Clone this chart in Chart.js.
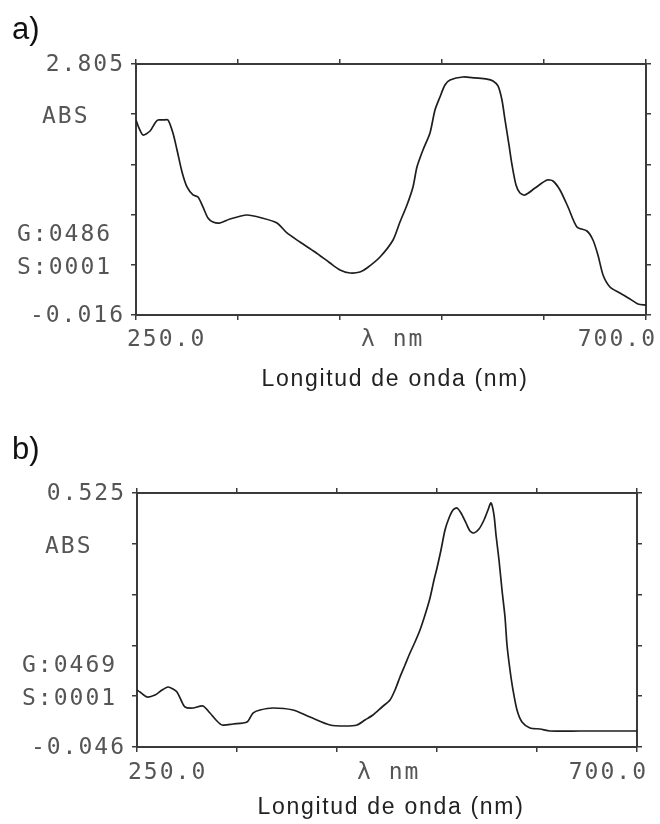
<html>
<head>
<style>
  body { margin: 0; background: #fff; }
  #wrap { position: relative; width: 660px; height: 824px; }
  canvas { position: absolute; left: 0; }
  #chartA { top: 0; }
  #chartB { top: 410px; }
</style>
<script src="https://cdn.jsdelivr.net/npm/chart.js"></script>
</head>
<body>
<div id="wrap">
  <canvas id="chartA" width="660" height="410"></canvas>
  <canvas id="chartB" width="660" height="414"></canvas>
</div>
<script>
// ---- data ----
var xTicks = [250, 340, 430, 520, 610, 700];
var xLabels = ['250.0', '\u03bb nm', '700.0'];
var axisTitle = 'Longitud de onda (nm)';

// spectrum a)
var yRangeA = [-0.016, 2.805];
var yLabelsA = ['2.805', 'ABS', 'G:0486', 'S:0001', '-0.016'];
var wavelengthA = [250, 252.6, 256.2, 262.4, 266.8, 269.4, 273.8, 278.2, 282.6, 286.2, 290.6, 295, 300.3, 304.7,
  309.1, 313.5, 317.9, 324.1, 332.9, 347.9, 361.2, 374.4, 383.2, 394.7, 408, 421.2, 430, 438.8, 447.6, 453.8,
  465.3, 476.8, 482.9, 489.1, 494.4, 497.9, 503.2, 509.4, 513.8, 518.2, 522.6, 527.1, 538.5, 549.1, 559.7, 565,
  569.4, 572.9, 575.6, 579.1, 581.8, 585.3, 588.8, 593.2, 602.1, 612.6, 617.9, 624.1, 631.2, 639.1, 647.9, 653.2,
  657.6, 662.1, 668.2, 677, 685.9, 692.9, 700];
var absA = [2.176, 2.086, 2.007, 2.052, 2.142, 2.176, 2.176, 2.176, 2.029, 1.838, 1.591, 1.423, 1.333, 1.310,
  1.198, 1.074, 1.029, 1.018, 1.063, 1.108, 1.074, 1.018, 0.906, 0.804, 0.692, 0.568, 0.490, 0.456, 0.467, 0.512,
  0.636, 0.827, 1.029, 1.220, 1.423, 1.647, 1.838, 2.030, 2.288, 2.434, 2.569, 2.625, 2.659, 2.648, 2.636, 2.614,
  2.558, 2.400, 2.176, 1.895, 1.670, 1.445, 1.355, 1.333, 1.411, 1.501, 1.490, 1.389, 1.198, 0.973, 0.928, 0.827,
  0.658, 0.434, 0.299, 0.231, 0.164, 0.108, 0.096];

// spectrum b)
var yRangeB = [-0.046, 0.525];
var yLabelsB = ['0.525', 'ABS', 'G:0469', 'S:0001', '-0.046'];
var wavelengthB = [250, 252.7, 259, 266.2, 272.5, 277.9, 282.4, 286, 289.6, 293.2, 300.4, 309.4, 315.7, 321.1,
  326.5, 336.4, 349, 354.4, 360.7, 372.4, 390.4, 405.7, 423.7, 437.2, 448, 455.2, 462.4, 470.5, 477.7, 482.2,
  486.7, 491.2, 495.7, 500.2, 504.7, 509.2, 513.7, 517.3, 520, 523.6, 527.2, 530.8, 534.4, 538, 541.6, 546.1,
  549.7, 553.3, 557.8, 562.3, 565.9, 568.6, 571.3, 573.1, 575.8, 578.5, 581.2, 583, 585.7, 588.4, 592, 596.5,
  603.7, 612.7, 621.7, 648.7, 700];
var absB = [0.082, 0.0776, 0.0664, 0.0709, 0.0821, 0.0889, 0.0844, 0.0776, 0.0597, 0.0439, 0.0417, 0.0462, 0.0304, 0.0147,
  0.0035, 0.0057, 0.0102, 0.0304, 0.0372, 0.0417, 0.0372, 0.0214, 0.0035, 0.0012, 0.0035, 0.0147, 0.0259, 0.0439, 0.0597, 0.0821,
  0.1114, 0.1383, 0.1653, 0.1900, 0.2170, 0.2507, 0.2890, 0.3294, 0.3564, 0.3969, 0.4418, 0.4688, 0.4868, 0.4913, 0.4800, 0.4576,
  0.4396, 0.4351, 0.4440, 0.4643, 0.4868, 0.5025, 0.4755, 0.4306, 0.3744, 0.3069, 0.2462, 0.1833, 0.1271, 0.0821, 0.0372, 0.0102,
  -0.0033, -0.0055, -0.0100, -0.0100, -0.0100];

var MONO = '23px "DejaVu Sans Mono"';
var AXIS_COLOR = '#3a3a3a';
var TEXT_GREY = '#555';

// writes the instrument-style labels round the frame
var specLabels = {
  id: 'specLabels',
  afterDraw: function (chart, args, opts) {
    var ctx = chart.ctx;
    var a = chart.chartArea;
    var y = chart.scales.y;
    // ticks[0] is the bottom (min) one
    var ticks = y.ticks.map(function (t) { return y.getPixelForValue(t.value); });
    ctx.save();
    ctx.textBaseline = 'middle';

    ctx.fillStyle = '#111';
    ctx.font = '31px "Liberation Sans"';
    ctx.textAlign = 'left';
    ctx.fillText(opts.panel, 12, opts.panelY);

    ctx.fillStyle = TEXT_GREY;
    ctx.font = MONO;
    ctx.letterSpacing = '2px';
    var ly = opts.yLabels;
    ctx.textAlign = 'right';
    ctx.fillText(ly[0], a.left - 11, ticks[5] + 1);
    ctx.fillText(ly[4], a.left - 11, ticks[0] + 1);
    ctx.textAlign = 'left';
    ctx.fillText(ly[1], opts.absX, ticks[4] + 3);
    ctx.fillText(ly[2], opts.gsX, (ticks[1] + ticks[2]) / 2 - 5);
    ctx.fillText(ly[3], opts.gsX, ticks[1] + 3);

    var mid = (a.left + a.right) / 2;
    var by = a.bottom + opts.xLabelDy;
    ctx.fillText(xLabels[0], a.left - 9, by);
    ctx.fillText(xLabels[1], mid - 30, by);
    ctx.textAlign = 'right';
    ctx.fillText(xLabels[2], a.right + 11, by);

    ctx.fillStyle = '#222';
    ctx.font = '23px "Liberation Sans"';
    ctx.letterSpacing = '1.7px';
    ctx.textAlign = 'center';
    ctx.fillText(axisTitle, mid + 4, a.bottom + opts.titleDy);
    ctx.restore();
  }
};

function frameAxis(position, size, tickValues, range) {
  var horizontal = position === 'top' || position === 'bottom';
  return {
    type: 'linear',
    position: position,
    min: range[0],
    max: range[1],
    afterBuildTicks: function (s) {
      s.ticks = tickValues.map(function (v) { return { value: v }; });
    },
    afterFit: function (s) {
      if (horizontal) s.height = size; else s.width = size;
    },
    ticks: { display: false },
    grid: { drawOnChartArea: false, drawTicks: true, tickLength: 5, color: AXIS_COLOR, lineWidth: 1.5 },
    border: { display: true, color: AXIS_COLOR, width: 2 }
  };
}

function yTicksFor(range) {
  var out = [];
  for (var i = 0; i <= 5; i++) out.push(range[0] + (range[1] - range[0]) * i / 5);
  return out;
}

function drawSpectrum(id, xs, ys, yRange, box, labels) {
  var points = xs.map(function (x, i) { return { x: x, y: ys[i] }; });
  var yt = yTicksFor(yRange);
  new Chart(document.getElementById(id), {
    type: 'line',
    data: {
      datasets: [{
        data: points,
        borderColor: '#1e1e1e',
        borderWidth: 1.7,
        pointRadius: 0,
        tension: 0.25,
        fill: false
      }]
    },
    options: {
      responsive: false,
      animation: false,
      devicePixelRatio: 1,
      layout: { padding: 0 },
      plugins: { legend: { display: false }, tooltip: { enabled: false }, specLabels: labels },
      scales: {
        x: frameAxis('bottom', box.bottom, xTicks, [250, 700]),
        x2: frameAxis('top', box.top, xTicks, [250, 700]),
        y: frameAxis('left', box.left, yt, yRange),
        y2: frameAxis('right', box.right, yt, yRange)
      }
    },
    plugins: [specLabels]
  });
}

drawSpectrum('chartA', wavelengthA, absA, yRangeA,
  { left: 136, right: 14, top: 64, bottom: 95 },
  { panel: 'a)', panelY: 30, yLabels: yLabelsA, absX: 42, gsX: 17, xLabelDy: 25, titleDy: 65 });

drawSpectrum('chartB', wavelengthB, absB, yRangeB,
  { left: 137, right: 23, top: 83, bottom: 77 },
  { panel: 'b)', panelY: 40, yLabels: yLabelsB, absX: 45, gsX: 22, xLabelDy: 26, titleDy: 61 });
</script>
</body>
</html>
